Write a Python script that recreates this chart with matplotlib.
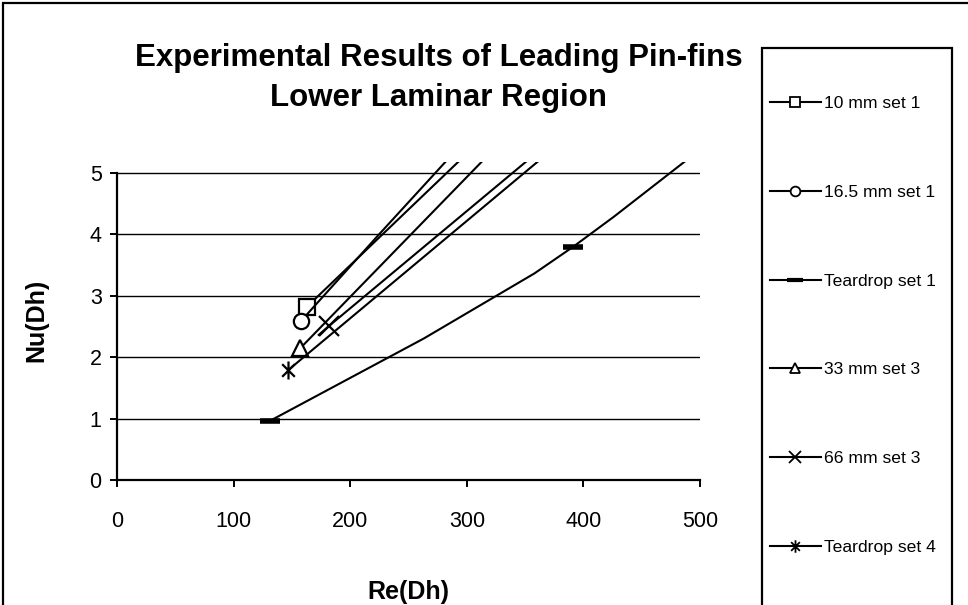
import matplotlib.pyplot as plt
from matplotlib.lines import Line2D
from matplotlib.patches import Rectangle
from matplotlib.path import Path

plt.rcParams['font.family'] = ['Liberation Sans', 'DejaVu Sans']

# series (Re(Dh), Nu(Dh)); marker_idx = where markers sit
re_10 = [163, 228, 293]
nu_10 = [2.82, 4.0, 5.18]
re_16 = [158, 225, 282]
nu_16 = [2.59, 4.0, 5.18]
re_td1 = [131, 263, 358, 391, 426, 487]
nu_td1 = [0.96, 2.30, 3.36, 3.79, 4.28, 5.18]
re_33 = [157, 313]
nu_33 = [2.14, 5.18]
re_66 = [173, 181.5, 351]
nu_66 = [2.36, 2.50, 5.18]
re_td4 = [147, 361]
nu_td4 = [1.79, 5.18]

labels = ["10 mm set 1", "16.5 mm set 1", "Teardrop set 1",
          "33 mm set 3", "66 mm set 3", "Teardrop set 4"]

# excel style star: an x with a vertical bar through it
star = Path([(-0.7, -0.7), (0.7, 0.7), (-0.7, 0.7), (0.7, -0.7), (0, -1), (0, 1)],
            [Path.MOVETO, Path.LINETO, Path.MOVETO, Path.LINETO, Path.MOVETO, Path.LINETO])

markers = ['s', 'o', '_', '^', 'x', star]
sizes = [11, 11, 15, 11, 15, 13]
leg_sizes = [7, 7, 11, 7, 8, 9]
marker_idx = [[0], [0], [0, 3], [0], [1], [0]]
xs = [re_10, re_16, re_td1, re_33, re_66, re_td4]
ys = [nu_10, nu_16, nu_td1, nu_33, nu_66, nu_td4]

fig = plt.figure(figsize=(9.68, 6.05), dpi=100)
ax = fig.add_axes([117/968, 1 - 480/605, 583/968, (480 - 161.5)/605])

for x, y, m, s, idx in zip(xs, ys, markers, sizes, marker_idx):
    if m == '_':
        ax.plot(x, y, color='black', lw=1.5, marker=m, markevery=idx,
                ms=s, mew=4)
    else:
        ax.plot(x, y, color='black', lw=1.5, marker=m, markevery=idx,
                ms=s, mfc='white', mec='black', mew=1.6)

ax.set_xlim(0, 500)
ax.set_ylim(0, 5.18)
ax.set_xticks(range(0, 501, 100))
ax.set_yticks(range(0, 6))
ax.yaxis.grid(True, color='black', lw=1.0)
ax.set_axisbelow(True)
for s in ['top', 'right']:
    ax.spines[s].set_visible(False)
ax.spines['left'].set_bounds(0, 5)
ax.spines['left'].set_linewidth(1.6)
ax.spines['bottom'].set_linewidth(1.6)
ax.tick_params(direction='out', length=5, width=1.4, labelsize=15.5)
ax.tick_params(axis='x', pad=17)
ax.tick_params(axis='y', pad=6)
ax.set_xlabel("Re(Dh)", fontsize=18, fontweight='bold', labelpad=35)
ax.set_ylabel("Nu(Dh)", fontsize=18, fontweight='bold', labelpad=30)

fig.text(439/968, 1 - 78/605,
         "Experimental Results of Leading Pin-fins\nLower Laminar Region",
         ha='center', va='center', fontsize=22.5, fontweight='bold',
         linespacing=1.42)

# outer chart border and legend box, both running past the picture edge
fig.patches.append(Rectangle((3/968, -0.2), 1.2, 1.2 - 3/605, transform=fig.transFigure,
                             fill=False, lw=1.6, ec='black'))
fig.patches.append(Rectangle((762/968, -0.2), (952 - 762)/968, 0.2 + 1 - 48/605,
                             transform=fig.transFigure, fill=False, lw=1.6, ec='black'))

handles = []
for m, s in zip(markers, leg_sizes):
    if m == '_':
        handles.append(Line2D([], [], color='black', lw=1.5, marker=m, ms=s, mew=3))
    else:
        handles.append(Line2D([], [], color='black', lw=1.5, marker=m, ms=s,
                              mfc='white', mec='black', mew=1.3))
fig.legend(handles, labels, loc='upper left', bbox_to_anchor=(770/968, 1 - 96/605),
           borderaxespad=0, borderpad=0, frameon=False, fontsize=12.6,
           handlelength=2.9, handletextpad=0.2, labelspacing=4.2)

fig.savefig("out.png", dpi=100)
